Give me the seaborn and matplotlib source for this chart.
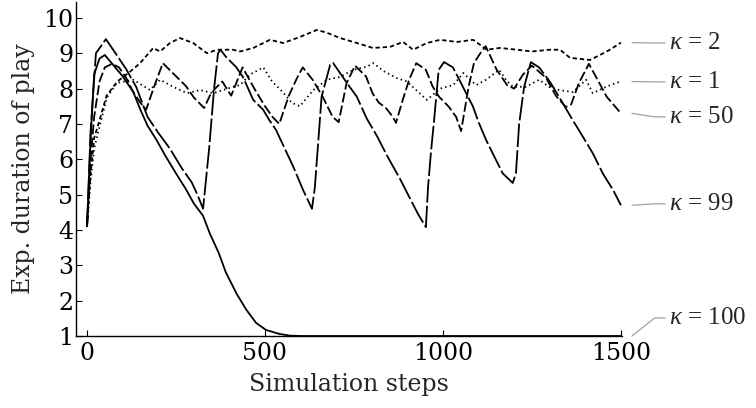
import numpy as np
import pandas as pd
import matplotlib
matplotlib.use("Agg")
import matplotlib.pyplot as plt
import seaborn as sns

# ---------------- data ----------------
k100_steps = [0, 10, 20, 35, 50, 75, 100, 130, 150, 170, 195, 220, 250, 278, 300, 326, 345, 370,
              390, 420, 447, 475, 503, 540, 570, 600, 800, 1000, 1200, 1500]
k100_vals = [4.1, 6.6, 8.4, 8.85, 8.95, 8.65, 8.35, 7.9, 7.4, 6.95, 6.55, 6.1, 5.6, 5.15, 4.75, 4.4, 3.9, 3.35,
             2.8, 2.2, 1.75, 1.37, 1.17, 1.06, 1.01, 1.0, 1.0, 1.0, 1.0, 1.0]

k99_steps = [0, 10, 25, 53, 80, 110, 138, 170, 200, 233, 266, 294, 310, 326, 343, 357, 368, 375,
             390, 418, 438, 467, 495, 512, 531, 551, 579, 607, 632, 640, 659, 683, 691,
             730, 758, 786, 815, 843, 879, 907, 930, 952, 958, 966, 975, 988, 1003,
             1028, 1046, 1065, 1084, 1100, 1121, 1149, 1168, 1196, 1205, 1214, 1228, 1247,
             1270, 1300, 1330, 1365, 1393, 1421, 1449, 1478, 1500]
k99_vals = [4.1, 6.8, 9.0, 9.4, 9.0, 8.55, 8.05, 7.2, 6.75, 6.3, 5.75, 5.35, 5.0, 4.6, 6.3, 8.0, 9.0, 9.1,
            8.9, 8.62, 8.33, 7.68, 7.4, 7.11, 6.83, 6.4, 5.8, 5.13, 4.6, 5.2, 7.77, 8.67, 8.73,
            8.16, 7.77, 7.15, 6.65, 6.1, 5.45, 4.9, 4.45, 4.08, 5.2, 6.17, 7.1, 8.53, 8.75,
            8.6, 8.25, 7.87, 7.5, 7.05, 6.55, 5.98, 5.6, 5.33, 5.6, 7.0, 8.05, 8.75,
            8.6, 8.2, 7.7, 7.1, 6.64, 6.17, 5.6, 5.13, 4.7]

k50_steps = [0, 10, 20, 35, 50, 70, 90, 110, 130, 150, 166, 190, 213, 245, 278, 300, 329, 345, 360,
             380, 405, 437, 470, 500, 521, 540, 567, 590, 606, 634, 662, 690, 707, 729, 753,
             784, 802, 820, 840, 859, 868, 887, 905, 925, 952, 971, 989, 1017, 1037, 1051,
             1072, 1087, 1105, 1120, 1150, 1180, 1200, 1225, 1250, 1290, 1317, 1345, 1360,
             1382, 1410, 1430, 1460, 1500]
k50_vals = [4.1, 6.0, 7.2, 8.2, 8.6, 8.7, 8.6, 8.3, 7.9, 7.6, 7.4, 8.1, 8.72, 8.4, 8.07, 7.75, 7.45, 7.8, 8.0,
            8.2, 7.8, 8.6, 8.0, 7.5, 7.2, 7.0, 7.8, 8.3, 8.6, 8.25, 7.77, 7.2, 7.05, 8.15, 8.65,
            8.34, 7.87, 7.6, 7.45, 7.2, 7.03, 7.68, 8.25, 8.72, 8.53, 8.06, 7.77, 7.48, 7.2, 6.8,
            8.05, 8.72, 9.0, 9.2, 8.55, 8.1, 8.0, 8.4, 8.65, 8.3, 7.8, 7.48, 7.55,
            8.16, 8.7, 8.33, 7.77, 7.3]

k2_steps = [0, 10, 20, 35, 55, 85, 121, 149, 186, 205, 233, 261, 298, 337, 365, 410, 430, 467, 514,
            551, 598, 646, 674, 711, 758, 803, 851, 888, 916, 955, 992, 1039, 1085, 1123, 1160,
            1208, 1250, 1300, 1329, 1357, 1413, 1441, 1469, 1500]
k2_vals = [4.1, 5.6, 6.6, 7.1, 7.8, 8.2, 8.48, 8.72, 9.15, 9.05, 9.29, 9.43, 9.29, 9.0, 9.1, 9.1, 9.05, 9.15, 9.38,
           9.29, 9.46, 9.66, 9.58, 9.43, 9.29, 9.15, 9.18, 9.32, 9.1, 9.29, 9.38, 9.32, 9.38, 9.1, 9.15,
           9.1, 9.05, 9.1, 9.1, 8.87, 8.81, 8.95, 9.1, 9.3]

k1_steps = [0, 10, 20, 37, 56, 84, 130, 177, 205, 242, 281, 317, 355, 410, 430, 458, 495, 520, 550,
            575, 598, 636, 674, 711, 748, 786, 805, 832, 870, 899, 945, 955, 992, 1029, 1057,
            1093, 1121, 1158, 1177, 1196, 1233, 1270, 1298, 1326, 1365, 1402, 1421, 1458, 1486, 1500]
k1_vals = [4.1, 5.4, 6.3, 7.0, 7.75, 8.16, 8.25, 7.96, 8.25, 8.05, 7.87, 7.96, 7.87, 8.05, 8.1, 8.4, 8.6, 8.2, 7.9,
           7.6, 7.5, 7.96, 8.25, 8.33, 8.53, 8.62, 8.72, 8.5, 8.3, 8.2, 7.77, 7.68, 8.0, 8.1, 8.44,
           8.1, 8.25, 8.53, 8.25, 8.05, 8.05, 8.25, 8.05, 7.96, 7.9, 8.25, 7.87, 8.05, 8.16, 8.2]

series_names = ["κ = 2", "κ = 1", "κ = 50", "κ = 99", "κ = 100"]
label_texts = [r"$\kappa$ = 2", r"$\kappa$ = 1", r"$\kappa$ = 50", r"$\kappa$ = 99", r"$\kappa$ = 100"]
label_y = [9.29, 8.19, 7.2, 4.74, 1.51]

x_ticks = [0, 500, 1000, 1500]
y_ticks = [1, 2, 3, 4, 5, 6, 7, 8, 9, 10]

# ---------------- build long table ----------------
parts = []
for name, st, vl in zip(series_names,
                        [k2_steps, k1_steps, k50_steps, k99_steps, k100_steps],
                        [k2_vals, k1_vals, k50_vals, k99_vals, k100_vals]):
    parts.append(pd.DataFrame({"step": st, "value": vl, "series": name}))
df = pd.concat(parts, ignore_index=True)

sns.set_theme(style="ticks")
plt.rcParams["font.family"] = ["DejaVu Serif"]
plt.rcParams["mathtext.fontset"] = "custom"
plt.rcParams["mathtext.it"] = "Liberation Serif:italic"
plt.rcParams["mathtext.rm"] = "Liberation Serif"

fig = plt.figure(figsize=(7.56, 4.08), dpi=100)
ax = fig.add_axes([76 / 756, 72 / 408, 546 / 756, 334 / 408])

dash_map = {
    "κ = 2": (2.4, 1.6),
    "κ = 1": (0.8, 1.8),
    "κ = 50": (5.5, 1.8),
    "κ = 99": (13, 1.8),
    "κ = 100": "",
}
sns.lineplot(data=df, x="step", y="value", hue="series", style="series",
             palette=["black"] * 5, dashes=dash_map, hue_order=series_names,
             style_order=series_names, estimator=None, sort=True,
             linewidth=1.3, legend=False, ax=ax)
for ln in ax.get_lines():
    ln.set_clip_on(False)
    ln.set_dash_capstyle("butt")

ax.set_xlim(-31, 1503)
ax.set_ylim(1, 10.45)
ax.set_xticks(x_ticks)
ax.set_yticks(y_ticks)
sns.despine(ax=ax)
for s in ["left", "bottom"]:
    ax.spines[s].set_linewidth(1.0)
    ax.spines[s].set_color("black")
ax.tick_params(direction="in", length=4, width=0.8, labelsize=17, colors="black")
ax.tick_params(axis="x", pad=4)
ax.tick_params(axis="y", pad=2)
ax.set_xlabel("Simulation steps", fontsize=17, labelpad=6)
ax.set_ylabel("Exp. duration of play", fontsize=17, labelpad=6)

# right-hand labels with grey connectors
ends = [k2_vals[-1], k1_vals[-1], k50_vals[-1], k99_vals[-1], k100_vals[-1]]
for txt, ly, ev in zip(label_texts, label_y, ends):
    ax.plot([1531, 1595, 1624], [ev, ly, ly], color="#a0a0a0", lw=0.9, clip_on=False)
    ax.text(1636, ly, txt, fontsize=18, va="center", ha="left", clip_on=False,
            family="Liberation Serif")

fig.savefig("out.png", dpi=100)
